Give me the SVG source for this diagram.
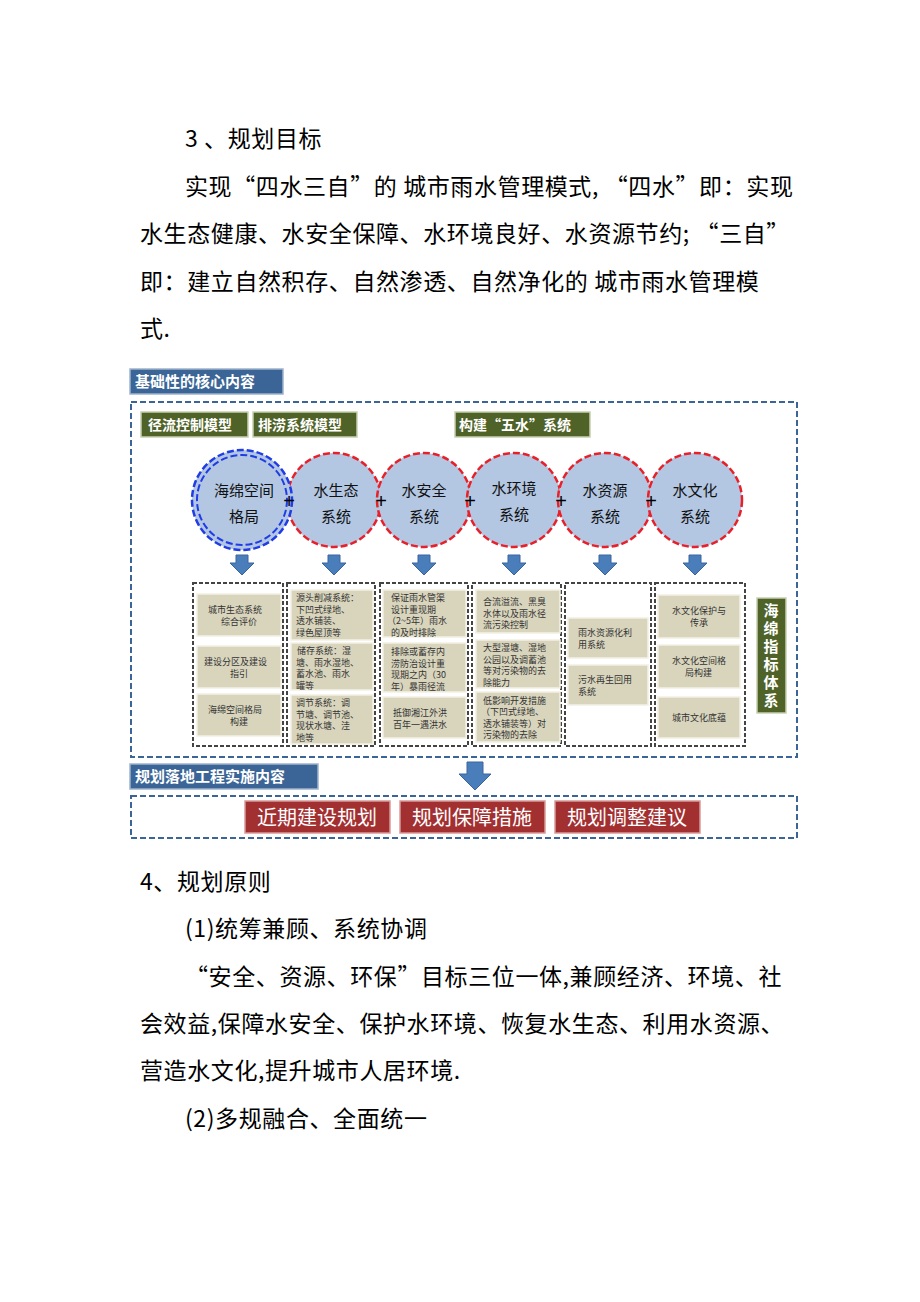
<svg xmlns="http://www.w3.org/2000/svg" width="920" height="1302" viewBox="0 0 920 1302">
<style>
.p{font-family:"Noto Sans CJK SC","Liberation Sans",sans-serif;font-size:23px;letter-spacing:0.6px;fill:#000}
.hd{fill:#3b6596;stroke:#9fb3cc;stroke-width:1.5}
.hdt{font-family:"Noto Sans CJK SC",sans-serif;font-size:15px;font-weight:bold;fill:#fff}
.gr{fill:#4f6228;stroke:#c7cfb0;stroke-width:1.5}
.grt{font-family:"Noto Sans CJK SC",sans-serif;font-size:14px;font-weight:bold;fill:#fff}
.vt{font-family:"Noto Sans CJK SC",sans-serif;font-size:15px;font-weight:bold;fill:#fff;writing-mode:vertical-rl;letter-spacing:3px}
.ob{fill:none;stroke:#3b6596;stroke-width:2;stroke-dasharray:6,3}
.cb{fill:#fff;stroke:#444;stroke-width:2;stroke-dasharray:4,2}
.ib{fill:#d9d5bd;stroke:#f2f0e4;stroke-width:1.5}
.it{font-family:"Noto Sans CJK SC",sans-serif;font-size:9px;fill:#333}
.ci{fill:#b3c7e3;stroke:#e8202a;stroke-width:2.5;stroke-dasharray:7,3}
.cit{font-family:"Noto Sans CJK SC",sans-serif;font-size:15px;fill:#111;text-anchor:middle}
.ar{fill:#4a7ebb;stroke:#3a64a0;stroke-width:1}
.rb{fill:#a33031;stroke:#d89a9a;stroke-width:1.5}
.rbt{font-family:"Noto Sans CJK SC",sans-serif;font-size:20px;fill:#fff;text-anchor:middle}
</style>
<rect width="920" height="1302" fill="#fff"/>
<g id="text-top">
<text class="p" x="185" y="147">3 、规划目标</text>
<text class="p" x="185" y="195">实现“四水三自”的 城市雨水管理模式, “四水”即：实现</text>
<text class="p" x="140" y="242">水生态健康、水安全保障、水环境良好、水资源节约; “三自”</text>
<text class="p" x="140" y="290">即：建立自然积存、自然渗透、自然净化的 城市雨水管理模</text>
<text class="p" x="140" y="337">式.</text>
</g>
<g id="header1"><rect class="hd" x="130" y="369" width="153" height="25"/><text class="hdt" x="135" y="387">基础性的核心内容</text></g>
<rect class="ob" x="131" y="402" width="666" height="355"/>
<g id="labels">
<rect class="gr" x="141" y="412" width="107" height="25"/><text class="grt" x="148" y="430">径流控制模型</text>
<rect class="gr" x="253" y="412" width="104" height="25"/><text class="grt" x="258" y="430">排涝系统模型</text>
<rect class="gr" x="455" y="412" width="135" height="25"/><text class="grt" x="459" y="430">构建“五水”系统</text>
</g>
<g id="circles">
<circle class="ci" cx="334" cy="500" r="47"/>
<circle class="ci" cx="424" cy="500" r="47"/>
<circle class="ci" cx="514" cy="500" r="47"/>
<circle class="ci" cx="605" cy="500" r="47"/>
<circle class="ci" cx="695" cy="500" r="47"/>
<circle cx="242" cy="500" r="50" fill="#b3c7e3" stroke="#1f3ce6" stroke-width="2.5" stroke-dasharray="7,3"/>
<circle cx="242" cy="500" r="45" fill="none" stroke="#1f3ce6" stroke-width="2" stroke-dasharray="7,3"/>
<text class="cit" x="244" y="496">海绵空间</text><text class="cit" x="244" y="522">格局</text>
<text class="cit" x="336" y="496">水生态</text><text class="cit" x="336" y="522">系统</text>
<text class="cit" x="424" y="496">水安全</text><text class="cit" x="424" y="522">系统</text>
<text class="cit" x="514" y="494">水环境</text><text class="cit" x="514" y="520">系统</text>
<text class="cit" x="605" y="496">水资源</text><text class="cit" x="605" y="522">系统</text>
<text class="cit" x="695" y="496">水文化</text><text class="cit" x="695" y="522">系统</text>
<g font-family="Liberation Sans,sans-serif" font-size="20" fill="#000" text-anchor="middle">
<text x="289" y="508">+</text><text x="381" y="508">+</text><text x="470" y="508">+</text><text x="561" y="508">+</text><text x="651" y="508">+</text>
</g>
</g>
<g id="connectors">
<path class="ar" d="M236,555h12v8h6l-12,12l-12,-12h6z"/>
<path class="ar" d="M328,555h12v8h6l-12,12l-12,-12h6z"/>
<path class="ar" d="M418,555h12v8h6l-12,12l-12,-12h6z"/>
<path class="ar" d="M508,555h12v8h6l-12,12l-12,-12h6z"/>
<path class="ar" d="M599,555h12v8h6l-12,12l-12,-12h6z"/>
<path class="ar" d="M689,555h12v8h6l-12,12l-12,-12h6z"/>
<path class="ar" d="M467,762h16v12h8l-16,16l-16,-16h8z"/>
</g>
<g id="columns">
<rect class="cb" x="193" y="583" width="90" height="163"/>
<rect class="cb" x="287" y="583" width="88" height="163"/>
<rect class="cb" x="380" y="583" width="88" height="163"/>
<rect class="cb" x="472" y="583" width="89" height="163"/>
<rect class="cb" x="565" y="583" width="86" height="163"/>
<rect class="cb" x="655" y="583" width="90" height="163"/>
</g>
<g id="col1">
<rect class="ib" x="197" y="594" width="84" height="42"/><text class="it" x="208" y="613">城市生态系统</text><text class="it" x="221" y="625">综合评价</text>
<rect class="ib" x="197" y="646" width="84" height="42"/><text class="it" x="204" y="665">建设分区及建设</text><text class="it" x="230" y="677">指引</text>
<rect class="ib" x="197" y="694" width="84" height="42"/><text class="it" x="208" y="713">海绵空间格局</text><text class="it" x="230" y="725">构建</text>
</g>
<g id="col2">
<rect class="ib" x="291" y="590" width="82" height="50"/><text class="it" x="296" y="601">源头削减系统：</text><text class="it" x="296" y="612.5">下凹式绿地、</text><text class="it" x="296" y="624">透水铺装、</text><text class="it" x="296" y="635.5">绿色屋顶等</text>
<rect class="ib" x="291" y="643" width="82" height="47"/><text class="it" x="297" y="654">储存系统：湿</text><text class="it" x="296" y="665.5">塘、雨水湿地、</text><text class="it" x="296" y="677">蓄水池、雨水</text><text class="it" x="296" y="688.5">罐等</text>
<rect class="ib" x="291" y="695" width="82" height="49"/><text class="it" x="296" y="706">调节系统：调</text><text class="it" x="296" y="717.5">节塘、调节池、</text><text class="it" x="296" y="729">现状水塘、洼</text><text class="it" x="296" y="740.5">地等</text>
</g>
<g id="col3">
<rect class="ib" x="383" y="590" width="83" height="47"/><text class="it" x="391" y="601">保证雨水管渠</text><text class="it" x="391" y="612.5">设计重现期</text><text class="it" x="387" y="624">（2~5年）雨水</text><text class="it" x="391" y="635.5">的及时排除</text>
<rect class="ib" x="383" y="643" width="83" height="49"/><text class="it" x="391" y="655">排除或蓄存内</text><text class="it" x="391" y="666.5">涝防治设计重</text><text class="it" x="391" y="678">现期之内（30</text><text class="it" x="391" y="689.5">年）暴雨径流</text>
<rect class="ib" x="383" y="697" width="83" height="41"/><text class="it" x="393" y="716">抵御湘江外洪</text><text class="it" x="393" y="728">百年一遇洪水</text>
</g>
<g id="col4">
<rect class="ib" x="476" y="590" width="84" height="43"/><text class="it" x="483" y="605">合流溢流、黑臭</text><text class="it" x="483" y="616.5">水体以及雨水径</text><text class="it" x="483" y="628">流污染控制</text>
<rect class="ib" x="476" y="640" width="84" height="48"/><text class="it" x="483" y="651">大型湿塘、湿地</text><text class="it" x="483" y="662.5">公园以及调蓄池</text><text class="it" x="483" y="674">等对污染物的去</text><text class="it" x="483" y="685.5">除能力</text>
<rect class="ib" x="476" y="692" width="84" height="50"/><text class="it" x="483" y="703.5">低影响开发措施</text><text class="it" x="481" y="715">（下凹式绿地、</text><text class="it" x="483" y="726.5">透水铺装等）对</text><text class="it" x="483" y="738">污染物的去除</text>
</g>
<g id="col5">
<rect class="ib" x="568" y="618" width="80" height="40"/><text class="it" x="578" y="636">雨水资源化利</text><text class="it" x="578" y="648">用系统</text>
<rect class="ib" x="568" y="665" width="80" height="40"/><text class="it" x="578" y="683">污水再生回用</text><text class="it" x="578" y="695">系统</text>
</g>
<g id="col6">
<rect class="ib" x="658" y="595" width="82" height="43"/><text class="it" x="672" y="614">水文化保护与</text><text class="it" x="690" y="626">传承</text>
<rect class="ib" x="658" y="645" width="82" height="43"/><text class="it" x="672" y="664">水文化空间格</text><text class="it" x="685" y="676">局构建</text>
<rect class="ib" x="658" y="697" width="82" height="41"/><text class="it" x="672" y="721">城市文化底蕴</text>
</g>
<g id="index"><rect class="gr" x="757" y="598" width="29" height="115"/>
<text class="vt" x="771" y="603">海绵指标体系</text></g>
<g id="header2"><rect class="hd" x="130" y="764" width="188" height="25"/><text class="hdt" x="135" y="782">规划落地工程实施内容</text></g>
<rect class="ob" x="131" y="796" width="666" height="42"/>
<g id="bottom">
<rect class="rb" x="245" y="801" width="145" height="32"/><text class="rbt" x="317" y="825">近期建设规划</text>
<rect class="rb" x="400" y="801" width="145" height="32"/><text class="rbt" x="472" y="825">规划保障措施</text>
<rect class="rb" x="555" y="801" width="145" height="32"/><text class="rbt" x="627" y="825">规划调整建议</text>
</g>
<g id="text-bottom">
<text class="p" x="140" y="890">4、规划原则</text>
<text class="p" x="185" y="937">(1)统筹兼顾、系统协调</text>
<text class="p" x="185" y="985">“安全、资源、环保”目标三位一体,兼顾经济、环境、社</text>
<text class="p" x="140" y="1032">会效益,保障水安全、保护水环境、恢复水生态、利用水资源、</text>
<text class="p" x="140" y="1079">营造水文化,提升城市人居环境.</text>
<text class="p" x="185" y="1127">(2)多规融合、全面统一</text>
</g>
</svg>
